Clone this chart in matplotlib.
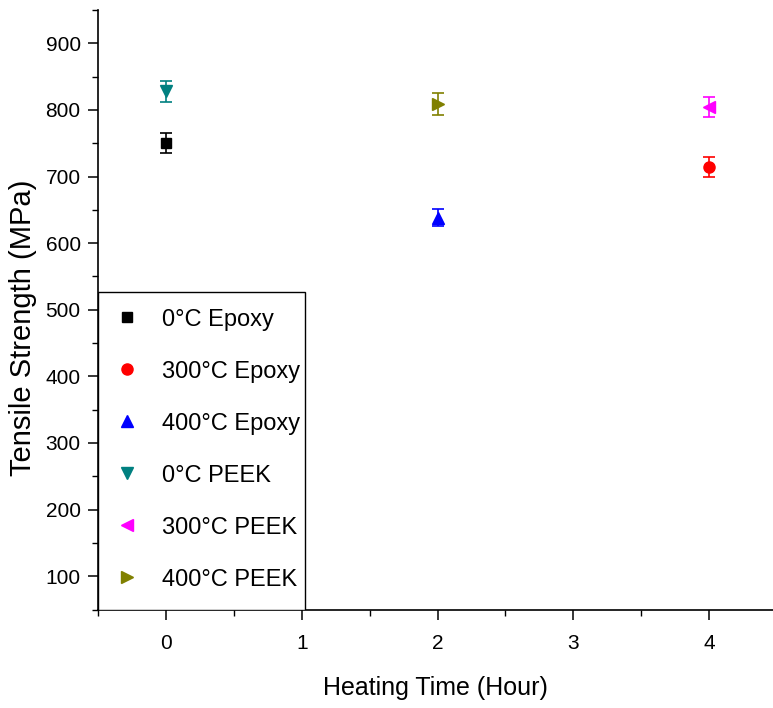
import matplotlib
matplotlib.use("Agg")
import matplotlib.pyplot as plt
from matplotlib.patches import Rectangle
from matplotlib.ticker import MultipleLocator

plt.rcParams['font.family'] = ['Liberation Sans', 'DejaVu Sans']

# data
labels = ['0°C Epoxy', '300°C Epoxy', '400°C Epoxy',
          '0°C PEEK', '300°C PEEK', '400°C PEEK']
hours = [0, 4, 2, 0, 4, 2]
strength = [750, 714, 638, 828, 804, 809]
err = [15, 15, 13, 16, 15, 16]

markers = ['s', 'o', '^', 'v', '<', '>']
colors = ['#000000', '#ff0000', '#0000ff', '#008080', '#ff00ff', '#808000']
sizes = [7, 8, 9, 9, 9, 9]

fig = plt.figure(figsize=(7.73, 7.08), dpi=100)
ax = fig.add_axes([0.1268, 0.1391, 0.8732, 0.8468])

handles = []
for i in range(len(labels)):
    c = ax.errorbar(hours[i], strength[i], yerr=err[i], fmt=markers[i],
                    color=colors[i], ms=sizes[i], capsize=4, elinewidth=1.2,
                    capthick=1.2, label=labels[i])
    handles.append(c[0])

ax.set_xlim(-0.5, 4.47)
ax.set_ylim(50, 950)
ax.xaxis.set_major_locator(MultipleLocator(1))
ax.xaxis.set_minor_locator(MultipleLocator(0.5))
ax.yaxis.set_major_locator(MultipleLocator(100))
ax.yaxis.set_minor_locator(MultipleLocator(50))

ax.spines['top'].set_visible(False)
ax.spines['right'].set_visible(False)
for s in ['left', 'bottom']:
    ax.spines[s].set_linewidth(1.2)

ax.tick_params(which='major', direction='out', length=7.5, width=1.1,
               labelsize=15, pad=5)
ax.tick_params(axis='x', which='major', pad=10)
ax.tick_params(which='minor', direction='out', length=4.5, width=1.0)

ax.set_xlabel('Heating Time (Hour)', fontsize=18, labelpad=17)
ax.set_ylabel('Tensile Strength (MPa)', fontsize=21)
ax.yaxis.set_label_coords(-0.09, 0.4696)

# legend box: text nearly touches its right edge, so the frame is drawn apart
box = Rectangle((0, 0), 0.3067, 0.5296, transform=ax.transAxes,
                facecolor='white', edgecolor='black', lw=1.0, zorder=4)
ax.add_patch(box)
leg = ax.legend(handles, labels, loc='lower left', borderaxespad=0,
                fontsize=17, frameon=False, labelspacing=1.27,
                borderpad=0.8, handlelength=0.85, handletextpad=1.06)
leg.set_zorder(5)

fig.savefig('out.png', dpi=100)
